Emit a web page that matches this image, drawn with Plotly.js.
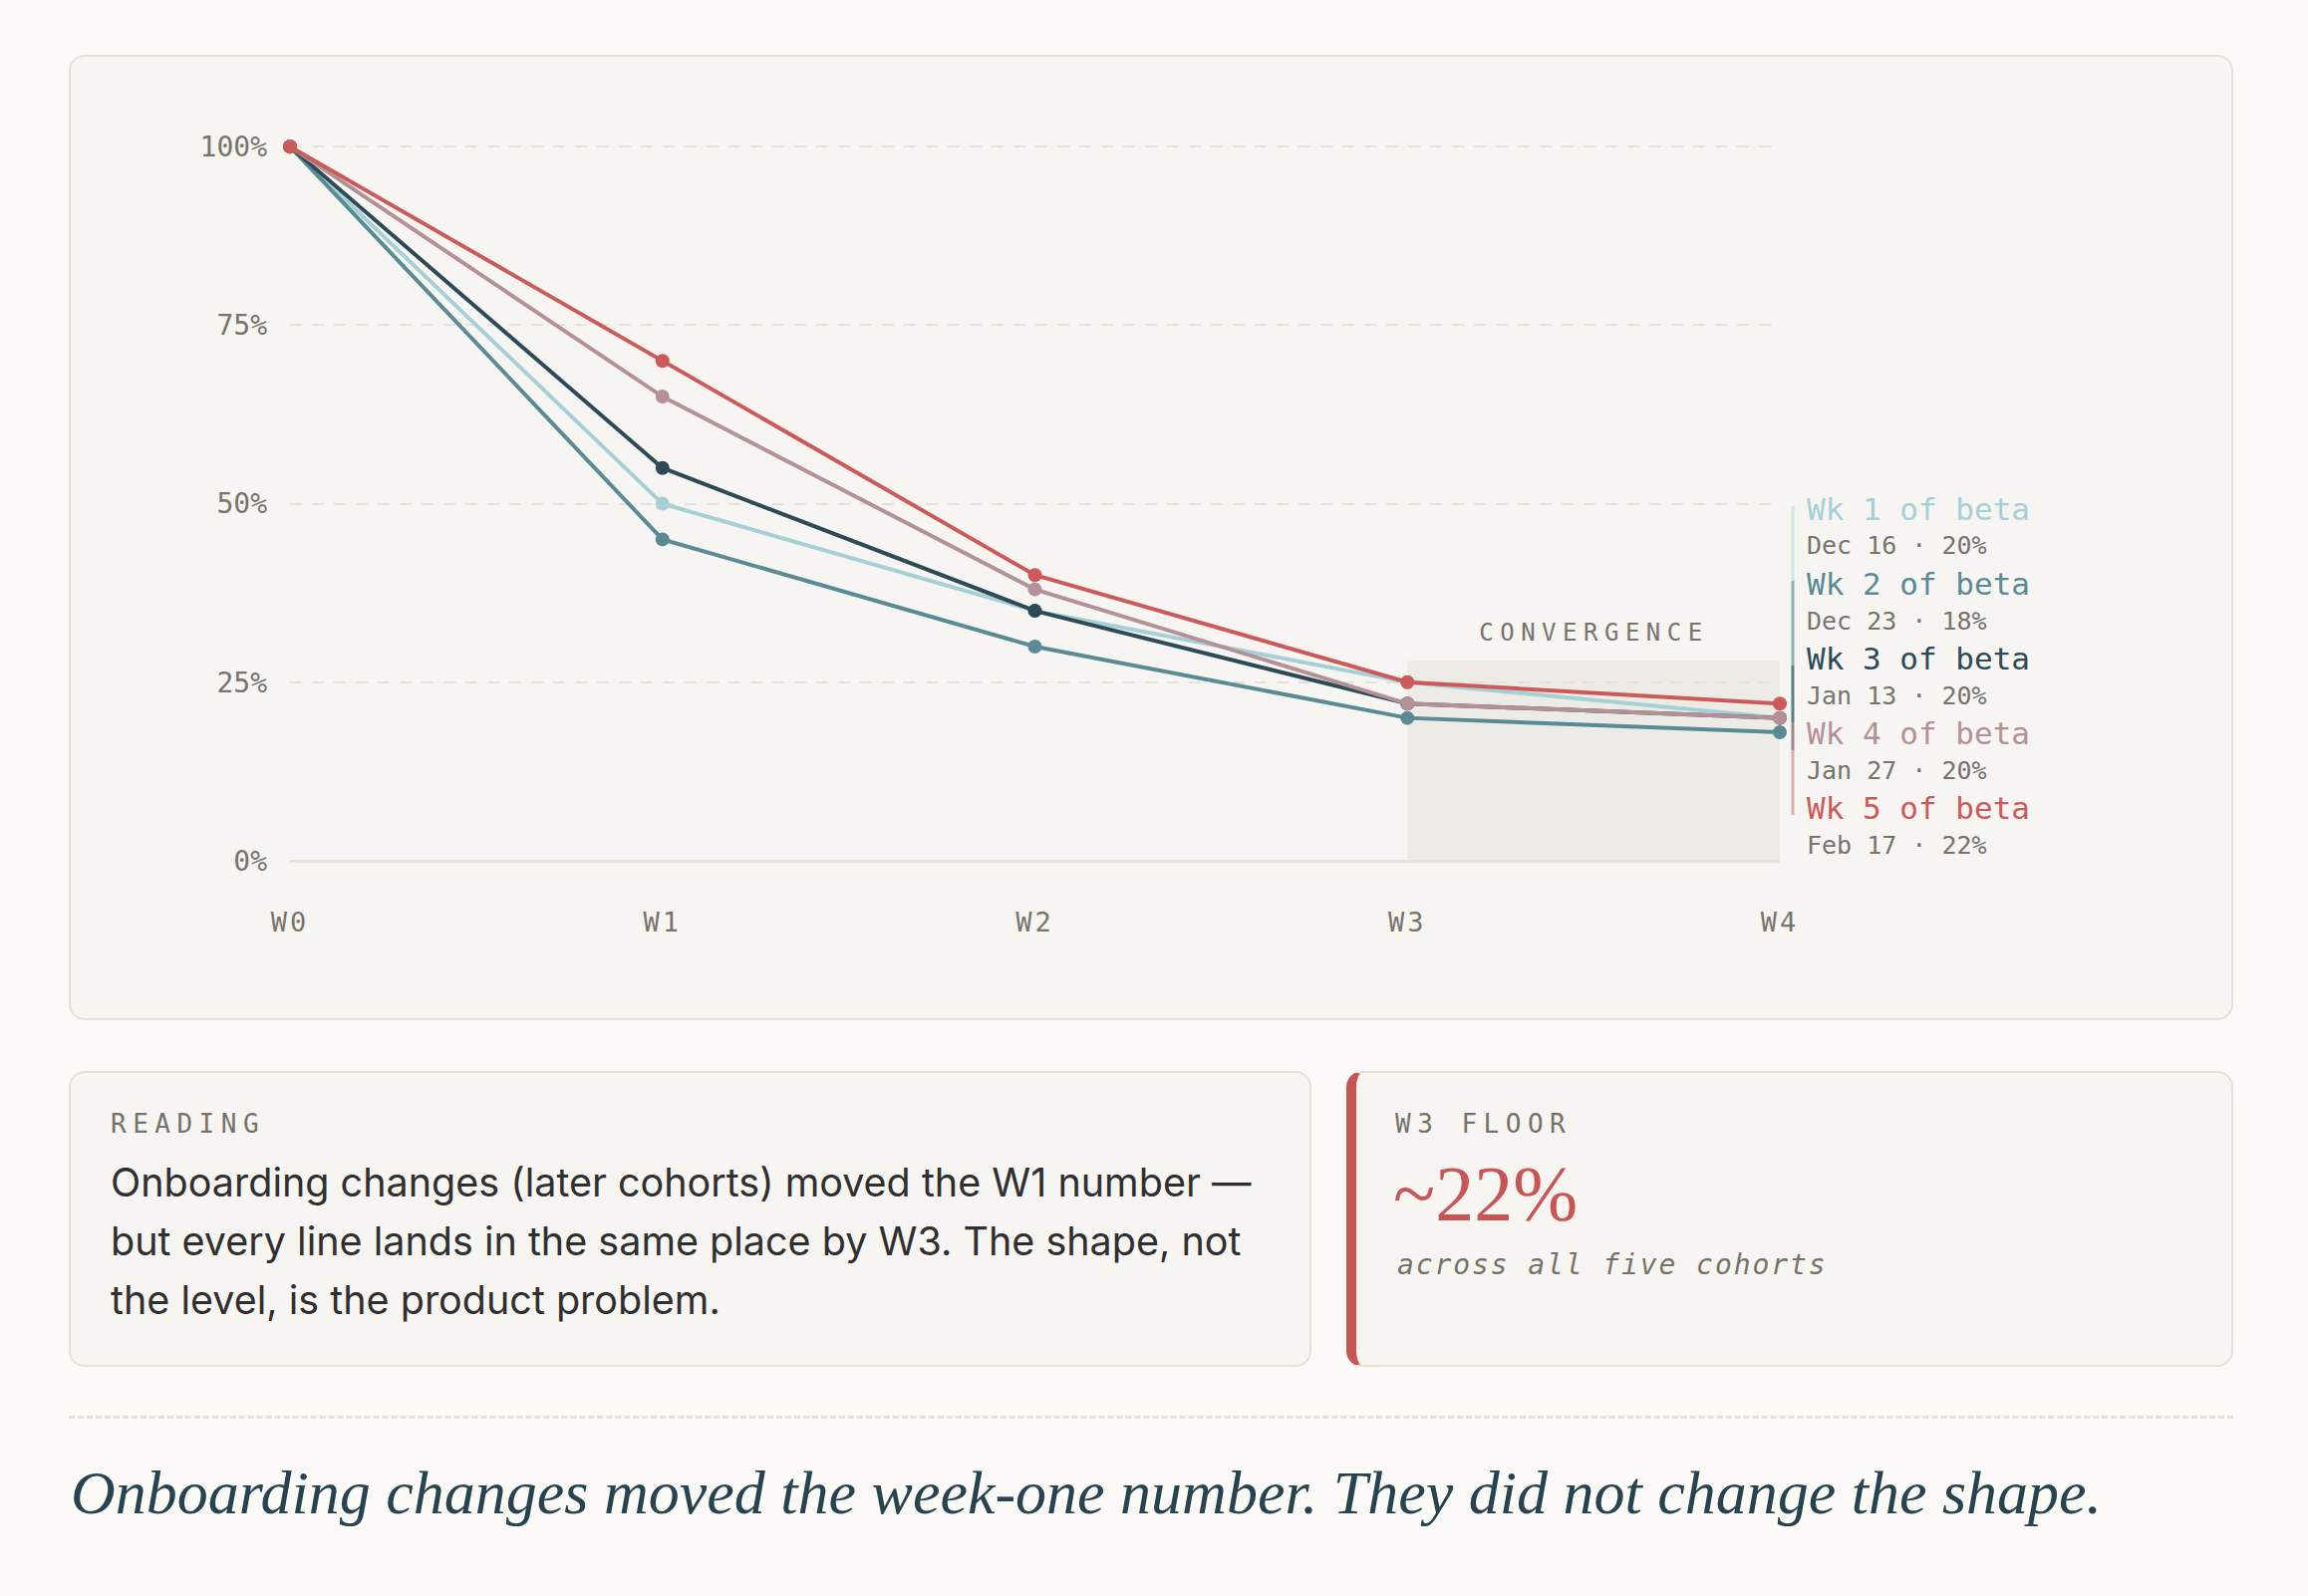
<!DOCTYPE html>
<html><head><meta charset="utf-8">
<script src="https://cdn.plot.ly/plotly-3.0.1.min.js"></script>
<style>
html,body{margin:0;padding:0;background:#fbfaf7;width:2316px;height:1602px;overflow:hidden;}
.card{position:absolute;box-sizing:border-box;background:#f6f5f1;border:2px solid #e3e2d9;border-radius:16px;}
.abs{position:absolute;white-space:nowrap;}
.eyebrow{font-family:"DejaVu Sans Mono",monospace;font-size:26px;line-height:26px;letter-spacing:6.5px;color:#75726c;}
.body{font-family:Inter,"Noto Sans",sans-serif;font-size:39.5px;line-height:59px;color:#2f2f2f;}
.big{font-family:"Liberation Serif",serif;font-size:78px;line-height:78px;color:#c85555;}
.note{font-family:"DejaVu Sans Mono",monospace;font-style:italic;font-size:28px;line-height:28px;letter-spacing:1.9px;color:#75726c;}
.footer{font-family:"Liberation Serif",serif;font-style:italic;font-size:62px;line-height:62px;color:#27434f;}
.divider{position:absolute;left:69px;width:2172px;top:1421px;border-top:3px dashed #e4e3da;}
#chart .annotation[data-index="0"] text{letter-spacing:6.5px;}
#chart .xtick text{letter-spacing:3px;}
</style></head><body>
<div class="card" style="left:69px;top:55px;width:2172px;height:969px"></div>
<div id="chart" style="position:absolute;left:69px;top:55px;width:2172px;height:969px"></div>

<div class="card" style="left:69px;top:1075px;width:1247px;height:297px"></div>
<div class="abs eyebrow" style="left:111px;top:1115px">READING</div>
<div class="abs body" style="left:111px;top:1158px">Onboarding changes (later cohorts) moved the W1 number —<br>but every line lands in the same place by W3. The shape, not<br>the level, is the product problem.</div>

<div class="card" style="left:1351px;top:1075px;width:890px;height:297px;border-left:10px solid #c85555"></div>
<div class="abs eyebrow" style="left:1400px;top:1115px">W3 FLOOR</div>
<div class="abs big" style="left:1398px;top:1159px">~22%</div>
<div class="abs note" style="left:1402px;top:1256px">across all five cohorts</div>

<div class="divider"></div>
<div class="abs footer" style="left:71px;top:1467px">Onboarding changes moved the week-one number. They did not change the shape.</div>

<script>
// ---- data ----
const weeks = ['W0', 'W1', 'W2', 'W3', 'W4'];
const weekIndex = [0, 1, 2, 3, 4];
const cohortNames = ['Wk 1 of beta', 'Wk 2 of beta', 'Wk 3 of beta', 'Wk 4 of beta', 'Wk 5 of beta'];
const cohortDates = ['Dec 16', 'Dec 23', 'Jan 13', 'Jan 27', 'Feb 17'];
const wk1 = [100, 50, 35, 25, 20];
const wk2 = [100, 45, 30, 20, 18];
const wk3 = [100, 55, 35, 22, 20];
const wk4 = [100, 65, 38, 22, 20];
const wk5 = [100, 70, 40, 25, 22];
const yTicks = [0, 25, 50, 75, 100];
const yTickLabels = ['0%', '25%', '50%', '75%', '100%'];
const convergenceWeeks = [3, 4];
const convergenceTop = 28;

// ---- styles ----
const series = [wk1, wk2, wk3, wk4, wk5];
const colors = ['#a7d0d6', '#5a8b94', '#2d4b57', '#b49196', '#cc5a5a'];
const barColors = ['#cfe4e7', '#8fb1b7', '#5a7e87', '#a4828a', '#e4aaaa'];
const barSpans = [[508, 583], [583, 668], [668, 725], [725, 753], [753, 818]];
const mono = '"DejaVu Sans Mono", monospace';
const gray = '#77746e';

const W = 2172, H = 969, ml = 222, mr = 455, mt = 90, mb = 160;
const pw = W - ml - mr, ph = H - mt - mb;
const px = x => (x - 69 - ml) / pw;          // page x -> paper
const py = y => (H - mb - (y - 55)) / ph;    // page y -> paper

const traces = series.map((s, i) => ({
  x: weekIndex, y: s, type: 'scatter', mode: 'lines+markers',
  name: cohortNames[i], cliponaxis: false,
  line: {color: colors[i], width: 4},
  marker: {color: colors[i], size: 14}
}));

const annotations = [{
  x: (convergenceWeeks[0] + convergenceWeeks[1]) / 2, y: convergenceTop,
  xref: 'x', yref: 'y', yanchor: 'bottom', yshift: 12, showarrow: false,
  text: 'CONVERGENCE', font: {family: mono, size: 24, color: gray}
}];
const shapes = [{
  type: 'rect', xref: 'x', yref: 'y', layer: 'below',
  x0: convergenceWeeks[0], x1: convergenceWeeks[1], y0: 0, y1: convergenceTop,
  fillcolor: '#ecebe5', line: {width: 0}
}];
cohortNames.forEach((n, i) => {
  annotations.push({
    xref: 'paper', yref: 'paper', x: px(1811), y: py(511 + 75 * i),
    xanchor: 'left', yanchor: 'middle', showarrow: false, text: n,
    font: {family: mono, size: 31, color: colors[i]}
  });
  const s = series[i];
  annotations.push({
    xref: 'paper', yref: 'paper', x: px(1811), y: py(548 + 75 * i),
    xanchor: 'left', yanchor: 'middle', showarrow: false,
    text: cohortDates[i] + ' · ' + s[s.length - 1] + '%',
    font: {family: mono, size: 25, color: gray}
  });
  shapes.push({
    type: 'line', xref: 'paper', yref: 'paper',
    x0: px(1799), x1: px(1799), y0: py(barSpans[i][0]), y1: py(barSpans[i][1]),
    line: {color: barColors[i], width: 3}
  });
});

const layout = {
  width: W, height: H,
  margin: {l: ml, r: mr, t: mt, b: mb},
  paper_bgcolor: 'rgba(0,0,0,0)', plot_bgcolor: 'rgba(0,0,0,0)',
  showlegend: false,
  xaxis: {
    range: [0, 4], tickvals: weekIndex, ticktext: weeks,
    showgrid: false, zeroline: false, showline: false, ticks: '',
    ticklabelstandoff: 43,
    tickfont: {family: mono, size: 27, color: gray}
  },
  yaxis: {
    range: [0, 100.3], tickvals: yTicks, ticktext: yTickLabels,
    showgrid: true, gridcolor: '#e4e2d8', gridwidth: 2, griddash: '12px,10px',
    zeroline: true, zerolinecolor: '#e4e2d8', zerolinewidth: 3,
    showline: false, ticks: '', ticklabelstandoff: 22,
    tickfont: {family: mono, size: 28, color: gray}
  },
  shapes: shapes,
  annotations: annotations
};

Plotly.newPlot('chart', traces, layout, {staticPlot: true, displayModeBar: false});
</script>
</body></html>
